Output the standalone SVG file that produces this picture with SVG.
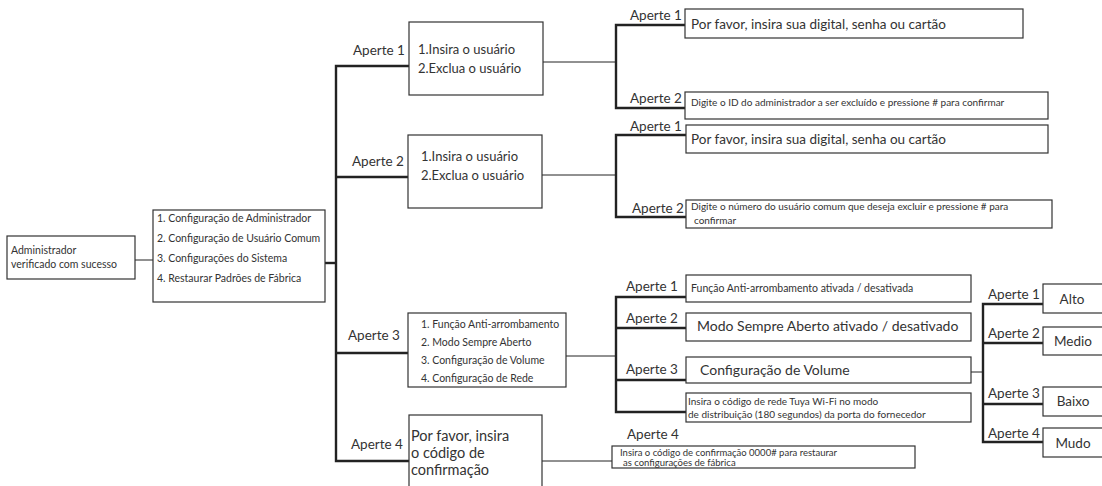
<svg xmlns="http://www.w3.org/2000/svg" width="1102" height="486" viewBox="0 0 1102 486">
<style>
text{font-family:Lato,"Open Sans","Liberation Sans",sans-serif;fill:#333}
.box{fill:#fff;stroke:#333;stroke-width:1.2}
.thick{stroke:#222;stroke-width:2.4;fill:none}
.thin{stroke:#222;stroke-width:1;fill:none}
.lbl{font-size:13.5px}
</style>
<rect width="1102" height="486" fill="#fff"/>
<g id="connectors">
<line class="thin" x1="135" y1="260" x2="153" y2="260"/>
<line class="thick" x1="325" y1="263" x2="336" y2="263"/>
<polyline class="thick" points="409,66 336,66 336,461 409,461"/>
<line class="thick" x1="336" y1="177" x2="408" y2="177"/>
<line class="thick" x1="336" y1="353" x2="408" y2="353"/>
<line class="thin" x1="543" y1="62" x2="616" y2="62"/>
<polyline class="thick" points="685,25 616,25 616,108 685,108"/>
<line class="thin" x1="542" y1="175" x2="616" y2="175"/>
<polyline class="thick" points="686,135 616,135 616,217 686,217"/>
<line class="thin" x1="566" y1="356" x2="616" y2="356"/>
<polyline class="thick" points="686,297 616,297 616,412 686,412"/>
<line class="thick" x1="616" y1="328" x2="686" y2="328"/>
<line class="thick" x1="616" y1="380" x2="686" y2="380"/>
<line class="thin" x1="542" y1="461" x2="612" y2="461"/>
<line class="thin" x1="971" y1="372" x2="983" y2="372"/>
<polyline class="thick" points="1043,304 983,304 983,442 1043,442"/>
<line class="thick" x1="983" y1="343" x2="1043" y2="343"/>
<line class="thick" x1="983" y1="404" x2="1043" y2="404"/>
</g>
<g id="labels" class="lbl">
<text x="353" y="55">Aperte 1</text>
<text x="352" y="166">Aperte 2</text>
<text x="348" y="340">Aperte 3</text>
<text x="351" y="449">Aperte 4</text>
<text x="630" y="20">Aperte 1</text>
<text x="630" y="103">Aperte 2</text>
<text x="630" y="131">Aperte 1</text>
<text x="632" y="213">Aperte 2</text>
<text x="626" y="291">Aperte 1</text>
<text x="626" y="323">Aperte 2</text>
<text x="626" y="374">Aperte 3</text>
<text x="627" y="439">Aperte 4</text>
<text x="988" y="299">Aperte 1</text>
<text x="988" y="338">Aperte 2</text>
<text x="988" y="398">Aperte 3</text>
<text x="988" y="438">Aperte 4</text>
</g>
<g id="admin">
<rect class="box" x="7" y="236" width="128" height="43"/>
<text x="11" y="254" font-size="10.5">Administrador</text>
<text x="11" y="268" font-size="10.5">verificado com sucesso</text>
</g>
<g id="menu">
<rect class="box" x="153" y="210" width="172" height="92"/>
<text x="157" y="222" font-size="10.5">1. Configuração de Administrador</text>
<text x="157" y="242" font-size="10.5">2. Configuração de Usuário Comum</text>
<text x="157" y="262" font-size="10.5">3. Configurações do Sistema</text>
<text x="157" y="282" font-size="10.5">4. Restaurar Padrões de Fábrica</text>
</g>
<g id="sub1">
<rect class="box" x="409" y="22" width="134" height="73"/>
<text x="418" y="54" font-size="13">1.Insira o usuário</text>
<text x="418" y="73" font-size="13">2.Exclua o usuário</text>
</g>
<g id="sub2">
<rect class="box" x="408" y="135" width="134" height="73"/>
<text x="421" y="161" font-size="13">1.Insira o usuário</text>
<text x="421" y="180" font-size="13">2.Exclua o usuário</text>
</g>
<g id="sub3">
<rect class="box" x="408" y="313" width="158" height="74"/>
<text x="421" y="328" font-size="10.5">1. Função Anti-arrombamento</text>
<text x="421" y="346" font-size="10.5">2. Modo Sempre Aberto</text>
<text x="421" y="364" font-size="10.5">3. Configuração de Volume</text>
<text x="421" y="382" font-size="10.5">4. Configuração de Rede</text>
</g>
<g id="sub4">
<rect class="box" x="409" y="415" width="133" height="80"/>
<text x="411" y="441" font-size="14.5">Por favor, insira</text>
<text x="411" y="458" font-size="14.5">o código de</text>
<text x="411" y="475" font-size="14.5">confirmação</text>
</g>
<g id="a1p1">
<rect class="box" x="685" y="9" width="338" height="29"/>
<text x="691" y="29" font-size="13.5">Por favor, insira sua digital, senha ou cartão</text>
</g>
<g id="a1p2">
<rect class="box" x="685" y="92" width="363" height="27"/>
<text x="691" y="106" font-size="10">Digite o ID do administrador a ser excluído e pressione # para confirmar</text>
</g>
<g id="a2p1">
<rect class="box" x="686" y="125" width="362" height="28"/>
<text x="691" y="144" font-size="13.5">Por favor, insira sua digital, senha ou cartão</text>
</g>
<g id="a2p2">
<rect class="box" x="686" y="200" width="366" height="28"/>
<text x="691" y="210" font-size="10">Digite o número do usuário comum que deseja excluir e pressione # para</text>
<text x="694" y="224" font-size="10">confirmar</text>
</g>
<g id="s1">
<rect class="box" x="686" y="275" width="285" height="27"/>
<text x="691" y="292" font-size="10.5">Função Anti-arrombamento ativada / desativada</text>
</g>
<g id="s2">
<rect class="box" x="686" y="313" width="285" height="28"/>
<text x="697" y="331" font-size="14">Modo Sempre Aberto ativado / desativado</text>
</g>
<g id="s3">
<rect class="box" x="686" y="357" width="285" height="26"/>
<text x="700" y="375" font-size="14">Configuração de Volume</text>
</g>
<g id="s4">
<rect class="box" x="686" y="393" width="285" height="29"/>
<text x="688" y="405" font-size="10">Insira o código de rede Tuya Wi-Fi no modo</text>
<text x="688" y="418" font-size="10">de distribuição (180 segundos) da porta do fornecedor</text>
</g>
<g id="restore">
<rect class="box" x="612" y="446" width="303" height="22"/>
<text x="620" y="456" font-size="9.5">Insira o código de confirmação 0000# para restaurar</text>
<text x="623" y="465.5" font-size="9.5">as configurações de fábrica</text>
</g>
<g id="alto">
<rect class="box" x="1043" y="284" width="60" height="29"/>
<text x="1072" y="304" font-size="13.5" text-anchor="middle">Alto</text>
</g>
<g id="medio">
<rect class="box" x="1043" y="327" width="60" height="28"/>
<text x="1073" y="346" font-size="13.5" text-anchor="middle">Medio</text>
</g>
<g id="baixo">
<rect class="box" x="1043" y="387" width="60" height="29"/>
<text x="1073" y="406" font-size="13.5" text-anchor="middle">Baixo</text>
</g>
<g id="mudo">
<rect class="box" x="1043" y="428" width="60" height="29"/>
<text x="1073" y="448" font-size="13.5" text-anchor="middle">Mudo</text>
</g>
</svg>
